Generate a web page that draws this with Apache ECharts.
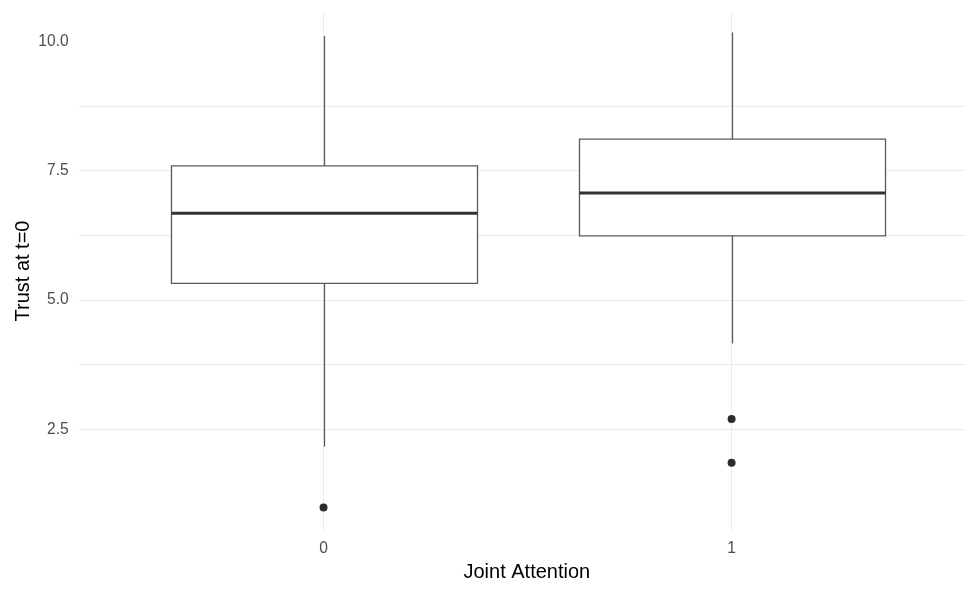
<!DOCTYPE html>
<html>
<head>
<meta charset="utf-8">
<script src="https://cdn.jsdelivr.net/npm/echarts@6/dist/echarts.min.js"></script>
<style>html,body{margin:0;padding:0;background:#fff}#c{width:965px;height:592px}</style>
</head>
<body>
<div id="c"></div>
<script>
// Categories (Joint Attention) and box statistics
var categories = ['0', '1'];
var whiskerLow  = [2.165, 4.16];
var q1          = [5.32, 6.24];
var median      = [6.675, 7.07];
var q3          = [7.59, 8.11];
var whiskerHigh = [10.10, 10.17];
// Outliers: [category index, value]
var outliers = [[0, 0.99], [1, 2.70], [1, 1.855]];
// Tick values
var yMajorTicks = [2.5, 5.0, 7.5, 10.0];
var yAllGrid = [1.25, 2.5, 3.75, 5.0, 6.25, 7.5, 8.75, 10.0];

var boxData = categories.map(function (c, i) {
  return [i, whiskerLow[i], q1[i], median[i], q3[i], whiskerHigh[i]];
});

var chart = echarts.init(document.getElementById('c'), null, {renderer: 'canvas'});
var fontFam = '"Liberation Sans", Arial, sans-serif';

chart.setOption({
  animation: false,
  backgroundColor: '#ffffff',
  grid: {left: 78.7, top: 11.8, width: 886.3, height: 518.4, containLabel: false},
  xAxis: {
    type: 'value', min: -0.6, max: 1.572,
    name: 'Joint Attention', nameLocation: 'middle', nameGap: 32,
    nameTextStyle: {color: '#000', fontSize: 20, fontFamily: fontFam, align: 'center', padding: [0, 0, 0, 10]},
    axisLine: {show: false}, axisTick: {show: false, customValues: [0, 1]},
    axisLabel: {customValues: [0, 1], color: '#4d4d4d', fontSize: 15.6, fontFamily: fontFam, margin: 10,
      formatter: function (v) { return categories[Math.round(v)]; }},
    splitLine: {show: true, lineStyle: {color: '#ebebeb', width: 1}}
  },
  yAxis: {
    type: 'value', min: 0.55, max: 10.57,
    name: 'Trust at t=0', nameLocation: 'middle', nameGap: 45, nameRotate: 90, nameMoveOverlap: false,
    nameTextStyle: {color: '#000', fontSize: 20, fontFamily: fontFam},
    axisLine: {show: false}, axisTick: {show: false, customValues: yAllGrid},
    axisLabel: {customValues: yMajorTicks, color: '#4d4d4d', fontSize: 15.6, fontFamily: fontFam, margin: 10,
      formatter: function (v) { return v.toFixed(1); }},
    splitLine: {show: true, showMinLine: false, showMaxLine: false, lineStyle: {color: '#ebebeb', width: 1}}
  },
  series: [
    {
      type: 'custom',
      data: boxData,
      z: 3,
      renderItem: function (params, api) {
        var x = api.value(0);
        var half = api.size([0.75, 0])[0] / 2;
        var pLow = api.coord([x, api.value(1)]);
        var pQ1 = api.coord([x, api.value(2)]);
        var pMed = api.coord([x, api.value(3)]);
        var pQ3 = api.coord([x, api.value(4)]);
        var pHigh = api.coord([x, api.value(5)]);
        var cx = Math.round(pQ1[0]) + 0.5;
        var stroke = {stroke: '#5a5a5a', lineWidth: 1.3, fill: null};
        return {
          type: 'group',
          children: [
            {type: 'line', shape: {x1: cx, y1: pHigh[1], x2: cx, y2: pQ3[1]}, style: stroke},
            {type: 'line', shape: {x1: cx, y1: pQ1[1], x2: cx, y2: pLow[1]}, style: stroke},
            {type: 'rect', shape: {x: cx - half, y: pQ3[1], width: half * 2, height: pQ1[1] - pQ3[1]},
              style: {stroke: '#5a5a5a', lineWidth: 1.3, fill: '#ffffff'}},
            {type: 'line', shape: {x1: cx - half, y1: pMed[1], x2: cx + half, y2: pMed[1]},
              style: {stroke: '#333333', lineWidth: 3}}
          ]
        };
      }
    },
    {
      type: 'scatter',
      data: outliers,
      symbol: 'circle',
      symbolSize: 8,
      itemStyle: {color: '#2b2b2b', opacity: 1},
      z: 4
    }
  ]
});
</script>
</body>
</html>
